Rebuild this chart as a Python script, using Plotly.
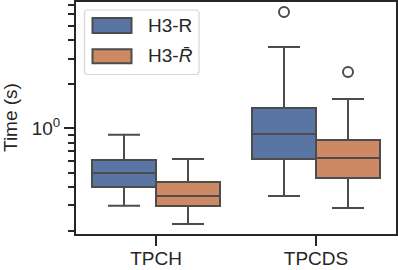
import plotly.graph_objects as go

# ---- data ----
categories = ["TPCH", "TPCDS"]
series_names = ["H3-R", "H3-<i>R̄</i>"]
q1 = {"H3-R": [0.399, 0.619], "H3-<i>R̄</i>": [0.296, 0.460]}
median = {"H3-R": [0.497, 0.917], "H3-<i>R̄</i>": [0.346, 0.629]}
q3 = {"H3-R": [0.610, 1.38], "H3-<i>R̄</i>": [0.432, 0.835]}
lowerfence = {"H3-R": [0.297, 0.346], "H3-<i>R̄</i>": [0.223, 0.287]}
upperfence = {"H3-R": [0.907, 3.60], "H3-<i>R̄</i>": [0.619, 1.59]}
outliers = {"H3-R": [[], [6.23]], "H3-<i>R̄</i>": [[], [2.43]]}
minor_ticks = [0.2, 0.3, 0.4, 0.5, 0.6, 0.7, 0.8, 0.9, 2, 3, 4, 5, 6, 7, 8, 9]

# ---- styles ----
colors = {"H3-R": "#5875a4", "H3-<i>R̄</i>": "#cc8963"}
offsets = {"H3-R": -0.2, "H3-<i>R̄</i>": 0.2}
gray = "#4c4c4c"
axis_col = "#262626"
FONT = "Liberation Sans, Arial, sans-serif"
FS = 19

fig = go.Figure()
for s in series_names:
    xs = [i + offsets[s] for i in range(len(categories))]
    fig.add_trace(go.Box(
        x=xs, q1=q1[s], median=median[s], q3=q3[s],
        lowerfence=lowerfence[s], upperfence=upperfence[s],
        width=0.4, whiskerwidth=0.5, fillcolor=colors[s],
        line=dict(color=gray, width=2), boxpoints=False,
        name=s, showlegend=False,
    ))
    ox, oy = [], []
    for i, vals in enumerate(outliers[s]):
        for v in vals:
            ox.append(i + offsets[s])
            oy.append(v)
    fig.add_trace(go.Scatter(
        x=ox, y=oy, mode="markers", showlegend=False,
        marker=dict(symbol="circle-open", size=10, color=gray,
                    line=dict(color=gray, width=2)),
    ))

# ---- manual legend (matplotlib-like) ----
W, H = 320.0, 232.0
def px(x):
    return (x - 76) / W
def py(y):
    return (234 - y) / H

x0, x1, y0, y1 = px(84.5), px(199), py(74.5), py(10)
rx, ry = 3 / W, 3 / H
path = (f"M{x0+rx},{y0} L{x1-rx},{y0} Q{x1},{y0} {x1},{y0+ry} "
        f"L{x1},{y1-ry} Q{x1},{y1} {x1-rx},{y1} L{x0+rx},{y1} "
        f"Q{x0},{y1} {x0},{y1-ry} L{x0},{y0+ry} Q{x0},{y0} {x0+rx},{y0} Z")
fig.add_shape(type="path", path=path, xref="paper", yref="paper",
              line=dict(color="#d6d6d6", width=1.2), fillcolor="rgba(255,255,255,0.8)")
legend_rows = [(18, 33, 26), (49.3, 63.3, 56)]
for s, (ta, tb, tc) in zip(series_names, legend_rows):
    fig.add_shape(type="rect", xref="paper", yref="paper",
                  x0=px(92.5), x1=px(131.5), y0=py(tb), y1=py(ta),
                  fillcolor=colors[s], line=dict(color=gray, width=2))
    fig.add_annotation(text=s, xref="paper", yref="paper", x=px(146), y=py(tc),
                       xanchor="left", yanchor="middle", showarrow=False,
                       font=dict(family=FONT, size=FS, color=axis_col))

# y-axis title
fig.add_annotation(text="Time (s)", xref="paper", yref="paper", x=px(10), y=0.5,
                   textangle=-90, xanchor="center", yanchor="middle", showarrow=False,
                   font=dict(family=FONT, size=FS, color=axis_col))

fig.update_layout(
    width=398, height=270,
    margin=dict(l=76, r=2, t=2, b=36, autoexpand=False),
    plot_bgcolor="white", paper_bgcolor="white",
    font=dict(family=FONT, size=FS, color=axis_col),
    showlegend=False,
)
fig.update_xaxes(
    range=[-0.5, 1.5], tickvals=list(range(len(categories))), ticktext=categories,
    showgrid=False, zeroline=False, showline=True, linecolor=axis_col, linewidth=2,
    mirror=True, ticks="outside", ticklen=10, tickwidth=2, tickcolor=axis_col,
    tickfont=dict(size=FS), automargin=False, ticklabelstandoff=-4,
)
fig.update_yaxes(
    type="log", range=[-0.72, 0.863], tickvals=[1], ticktext=["10<sup>0</sup>"],
    showgrid=False, zeroline=False, showline=True, linecolor=axis_col, linewidth=2,
    mirror=True, ticks="outside", ticklen=10, tickwidth=2, tickcolor=axis_col,
    tickfont=dict(size=FS), automargin=False,
    minor=dict(tickvals=minor_ticks, ticks="outside", ticklen=6, tickwidth=1.5,
               tickcolor=axis_col, showgrid=False),
)

fig.write_html(
    "out.html",
    config={"displayModeBar": False},
    post_script="document.body.style.margin='0';document.body.style.padding='0';",
)
